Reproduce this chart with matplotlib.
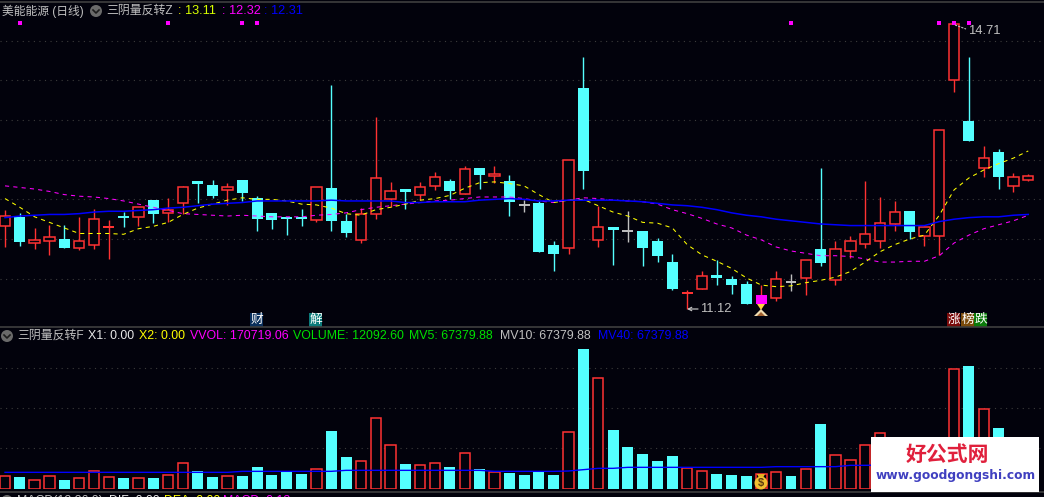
import matplotlib
matplotlib.use("Agg")
import matplotlib.pyplot as plt
from matplotlib.patches import Rectangle, Circle, Polygon

W, H = 1044, 497
BG = "#02020c"
RED = "#ff3232"
CYAN = "#54ffff"
GRID = "#3c3c3c"
FONT = ["Liberation Sans", "Noto Sans CJK SC", "DejaVu Sans"]
plt.rcParams["font.family"] = FONT

# daily prices
body_top = [12.29,12.28,11.99,12.02,12.00,11.98,12.25,12.16,12.28,12.41,12.49,12.36,12.65,12.73,12.68,12.66,12.74,12.52,12.33,12.28,
            12.28,12.66,12.64,12.23,12.31,12.77,12.61,12.63,12.65,12.78,12.73,12.88,12.90,12.82,12.73,12.43,12.45,11.93,12.99,13.90,
            12.15,12.15,12.10,12.10,11.98,11.71,11.33,11.54,11.55,11.50,11.43,11.30,11.50,11.46,11.74,11.87,11.88,11.98,12.06,12.20,
            12.34,12.35,12.15,13.37,14.71,13.49,13.02,13.10,12.78,12.79]
body_bot = [12.16,11.96,11.95,11.98,11.89,11.89,11.93,12.14,12.28,12.28,12.32,12.33,12.45,12.69,12.54,12.62,12.58,12.25,12.24,12.25,
            12.25,12.24,12.23,12.08,11.99,12.31,12.51,12.59,12.55,12.67,12.61,12.57,12.81,12.79,12.47,12.43,11.84,11.81,11.89,12.86,
            11.99,12.11,12.10,11.89,11.79,11.37,11.31,11.37,11.51,11.42,11.18,11.18,11.26,11.46,11.51,11.70,11.48,11.85,11.94,11.97,
            12.19,12.09,12.04,12.04,14.00,13.24,12.89,12.78,12.67,12.75]
high = [12.37,12.33,12.14,12.18,12.18,12.28,12.38,12.24,12.34,12.41,12.49,12.52,12.67,12.73,12.74,12.71,12.74,12.54,12.33,12.28,
        12.38,12.66,13.94,12.32,12.39,13.54,12.72,12.63,12.72,12.84,12.76,12.92,12.90,12.92,12.81,12.49,12.48,11.98,12.99,14.29,
        12.42,12.15,12.35,12.10,12.01,11.81,11.36,11.60,11.74,11.53,11.47,11.42,11.60,11.56,11.74,12.90,11.98,12.04,12.73,12.53,
        12.48,12.35,12.16,13.37,14.71,14.29,13.17,13.13,12.83,12.82]
low = [11.90,11.91,11.87,11.80,11.89,11.86,11.87,11.75,12.15,12.16,12.20,12.21,12.31,12.45,12.52,12.43,12.48,12.10,12.13,12.05,
       12.16,12.22,12.10,12.03,11.95,12.25,12.41,12.38,12.49,12.62,12.50,12.57,12.63,12.70,12.29,12.34,11.84,11.60,11.81,12.63,
       11.90,11.67,11.96,11.66,11.71,11.36,11.12,11.37,11.42,11.31,11.18,11.18,11.22,11.35,11.30,11.66,11.42,11.76,11.89,11.89,
       12.10,12.00,11.91,11.80,13.85,13.24,12.78,12.63,12.59,12.73]
# 'r' rising, 'c' falling, 'w' doji, 'm' signal day
kinds = list("rcrrcrrrcr" "crrccrcccc" "crccrrrcrr" "crcrcwccrc" "rcwcccrrcc" "cmrwrcrrrr" "rcrrrcrcrr")
solid_red = [7, 46]

ma_yellow = [12.51,12.40,12.28,12.21,12.14,12.07,12.07,12.07,12.06,12.13,12.16,12.21,12.31,12.39,12.44,12.49,12.52,12.50,12.50,12.48,
             12.44,12.43,12.39,12.32,12.30,12.37,12.40,12.44,12.49,12.51,12.55,12.64,12.71,12.72,12.70,12.67,12.56,12.46,12.49,12.50,
             12.42,12.34,12.29,12.21,12.20,12.14,11.93,11.80,11.72,11.63,11.51,11.42,11.40,11.41,11.45,11.48,11.52,11.59,11.71,11.84,
             11.93,12.00,12.05,12.30,12.62,12.77,12.87,12.95,13.02,13.11]
ma_magenta = [12.67,12.65,12.63,12.60,12.56,12.54,12.53,12.51,12.48,12.44,12.40,12.36,12.32,12.31,12.30,12.29,12.30,12.29,12.28,12.28,
              12.28,12.30,12.31,12.33,12.37,12.40,12.42,12.44,12.46,12.48,12.49,12.51,12.53,12.53,12.53,12.51,12.48,12.46,12.49,12.52,
              12.51,12.49,12.48,12.47,12.44,12.37,12.32,12.26,12.19,12.14,12.05,11.99,11.90,11.85,11.82,11.79,11.79,11.78,11.75,11.71,
              11.71,11.72,11.72,11.79,11.95,12.05,12.13,12.18,12.23,12.30]
ma_blue = [12.27,12.29,12.30,12.31,12.31,12.32,12.34,12.35,12.35,12.36,12.37,12.39,12.40,12.42,12.44,12.45,12.46,12.48,12.48,12.48,
           12.48,12.48,12.49,12.48,12.48,12.48,12.48,12.46,12.46,12.47,12.47,12.47,12.49,12.50,12.51,12.50,12.48,12.48,12.49,12.49,
           12.49,12.49,12.48,12.47,12.45,12.43,12.42,12.40,12.37,12.33,12.30,12.28,12.25,12.23,12.21,12.19,12.18,12.17,12.17,12.17,
           12.17,12.17,12.17,12.22,12.25,12.27,12.28,12.28,12.30,12.31]
flag_days = [1, 11, 16, 17, 53, 63, 64, 65]
flag_level = 14.72

# volume, in relative units (last ones sit behind the watermark)
volume = [38,36,26,38,27,32,53,35,33,32,33,41,77,54,36,38,39,66,42,53,45,59,174,96,83,212,131,75,71,77,66,107,60,51,48,
          42,51,42,170,420,332,177,126,105,84,99,62,53,45,42,39,44,50,39,59,195,101,86,131,167,100,70,60,140,360,369,239,183,110,60]
vol_up = [0,2,3,5,6,7,9,11,12,15,21,24,25,26,28,29,31,33,38,40,46,47,51,52,54,56,57,58,59,62,63,64,66,68,69]
vol_ma40 = [50]*16 + [53]*7 + [56]*10 + [53]*5 + [54,58,62,62] + [65]*10 + [67]*5 + [71,71] + [72]*11
vol_grid = [123, 243, 363]
price_grid = [11.5, 12.0, 12.5, 13.0, 13.5, 14.0, 14.5]

PX = 14.83
fig = plt.figure(figsize=(W/100, H/100), dpi=100, facecolor=BG)
def axes_px(top, bottom):
    a = fig.add_axes([0, 1-bottom/H, 1, (bottom-top)/H], facecolor="none")
    a.set_xlim(-5/PX, (W-5)/PX)
    a.tick_params(length=0, labelleft=False, labelbottom=False)
    for s in a.spines.values():
        s.set_visible(False)
    a.set_xticks([])
    a.set_axisbelow(True)
    return a

# ---- price pane
ax = axes_px(0, 325)
ax.set_ylim(15.012-0.0126*325, 15.012)
ax.set_yticks(price_grid)
ax.grid(axis="y", color=GRID, lw=0.8, ls=(0, (1, 4)))
days = range(len(high))
colors = {"r": RED, "c": CYAN, "w": "#c0c0c0", "m": RED}
for i in days:
    k = kinds[i]
    ax.vlines(i, low[i], high[i], color=colors[k], lw=1.0, zorder=2)
    h = body_top[i]-body_bot[i]
    if k == "w" or h == 0:
        ax.hlines(body_top[i], i-0.37, i+0.37, color=colors[k], lw=1.4, zorder=3)
    elif k == "c":
        ax.bar(i, h, 0.74, body_bot[i], color=CYAN, lw=0, zorder=3)
    elif k == "m":
        ax.bar(i, h, 0.74, body_bot[i], color="#ff00ff", lw=0, zorder=3)
    elif i in solid_red:
        ax.bar(i, h, 0.74, body_bot[i], color=RED, lw=0, zorder=3)
    else:
        ax.bar(i, h, 0.70, body_bot[i], facecolor=BG, edgecolor=RED, lw=1.1, zorder=3)
ax.plot(days, ma_magenta, color="#ff00ff", lw=0.75, ls=(0, (4, 4)), zorder=4)
ax.plot(days, ma_yellow, color="#ffff00", lw=0.75, ls=(0, (4, 4)), zorder=5)
ax.plot(days, ma_blue, color="#0000ff", lw=1.1, zorder=6)
ax.scatter(flag_days, [flag_level]*len(flag_days), marker="s", s=5, color="#ff00ff", lw=0, zorder=6)

# ---- volume pane
vx = axes_px(328, 489)
vx.set_ylim(0, 483)
vx.set_yticks(vol_grid)
vx.grid(axis="y", color=GRID, lw=0.8, ls=(0, (1, 4)))
for i in days:
    if i in vol_up:
        vx.bar(i, volume[i], 0.70, facecolor=BG, edgecolor=RED, lw=1.1, zorder=3)
    else:
        vx.bar(i, volume[i], 0.74, color=CYAN, lw=0, zorder=3)
vx.plot(days, vol_ma40, color="#0000ff", lw=1.0, zorder=5)

# ---- overlay in figure pixels
ov = fig.add_axes([0, 0, 1, 1], facecolor="none", zorder=10)
ov.set_xlim(0, W); ov.set_ylim(H, 0); ov.axis("off")
for y in (1.5, 327, 492):
    ov.plot([0, W], [y, y], color="#3f3f3f", lw=1.2)

def t(x, y, s, c="#c0c0c0", size=8.9, **kw):
    ov.text(x, y, s, color=c, fontsize=size, ha=kw.pop("ha", "left"), va=kw.pop("va", "center"), clip_on=True, **kw)

def chevron(x, y):
    ov.add_patch(Circle((x, y), 6, color="#6a6a6a", lw=0))
    ov.plot([x-3, x, x+3], [y-1, y+2, y-1], color="#1c1c1c", lw=1.2)

YEL = "#ffff00"; MAG = "#ff00ff"; BLU = "#0000ff"; GRN = "#00e000"
t(2, 11, "美能能源 (日线)", size=8.5)
chevron(96, 11)
t(106, 11, "三阴量反转Z", size=8.6)
t(178, 11, ":", YEL); t(185, 11, "13.11", "#d8ff00", size=9.2)
t(222, 11, ":", MAG); t(229, 11, "12.32", MAG, size=9.2)
t(264, 11, ":", BLU); t(271, 11, "12.31", BLU, size=9.2)

chevron(7, 336)
t(17, 336, "三阴量反转F", size=8.6)
t(88, 336, "X1: 0.00", "#e8e8e8")
t(139, 336, "X2: 0.00", YEL)
t(190, 336, "VVOL: 170719.06", MAG)
t(293, 336, "VOLUME: 12092.60", GRN)
t(409, 336, "MV5: 67379.88", GRN)
t(500, 336, "MV10: 67379.88")
t(598, 336, "MV40: 67379.88", BLU)

chevron(7, 501)
t(17, 501, "MACD(12,26,9)")
t(109, 501, "DIF: 0.00", "#e8e8e8")
t(164, 501, "DEA: 0.00", YEL)
t(223, 501, "MACD: 0.13", MAG)

# high / low markers
t(968, 30.5, "14.71", size=9.4)
ov.plot([955, 966], [25, 29], color="#c0c0c0", lw=0.8, ls=(0, (2, 1)))
t(700, 309.5, "11.12", size=9.4)
ov.annotate("", xy=(687, 309), xytext=(698, 309), arrowprops=dict(arrowstyle="->", color="#c0c0c0", lw=0.9, mutation_scale=6, shrinkA=0, shrinkB=0))

# badges
def badge(x, y, s, bg, fg="#ffffff"):
    ov.add_patch(Rectangle((x, y), 13, 14, color=bg, lw=0))
    t(x+6.5, y+6.5, s, fg, size=9.2, ha="center")
badge(250, 313, "财", "#0a2f5c")
badge(309, 313, "解", "#0b7a7a")
badge(947, 313, "涨", "#7a0a0a")
badge(961, 313, "榜", "#7a4a0a")
badge(974, 313, "跌", "#0a7a0a")

# signal icons
ov.add_patch(Polygon([[757, 304], [765, 304], [761, 310]], color="#ffd040", lw=0))
ov.add_patch(Polygon([[761, 309], [768, 316], [754, 316]], color="#f0dcb0", lw=0))
ov.add_patch(Polygon([[761, 312], [765, 316], [757, 316]], color="#a06030", lw=0))
ov.add_patch(Polygon([[757, 474], [765, 474], [763, 478], [759, 478]], color="#e8b020", lw=0))
ov.add_patch(Circle((761, 483), 6.5, color="#f0c030", lw=0))
t(761, 483, "$", "#5a3a10", size=8, ha="center", weight="bold")

# watermark
ov.add_patch(Rectangle((871, 437), 168, 55, color="#ffffff", lw=0, zorder=8))
ov.text(947, 454, "好公式网", color="#e0203c", fontsize=15, ha="center", va="center", weight="bold",
        family=["Noto Sans CJK SC"], zorder=9)
ov.text(956, 475, "www.goodgongshi.com", color="#4040c0", fontsize=8.8, ha="center", va="center", weight="bold",
        family=["DejaVu Sans"], zorder=9)

fig.savefig("out.png", dpi=100, facecolor=BG)
